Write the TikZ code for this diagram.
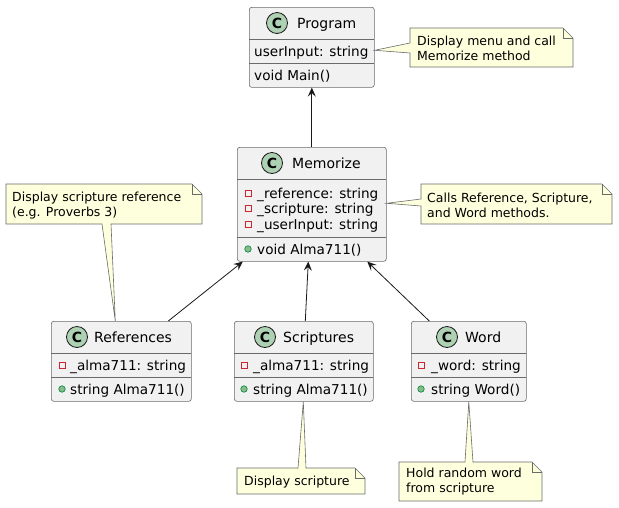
\documentclass[tikz,border=0pt]{standalone}
\usepackage{fontspec}
\setmainfont{DejaVu Sans}
\usetikzlibrary{arrows.meta}
\definecolor{classbg}{HTML}{F1F1F1}
\definecolor{linecol}{HTML}{181818}
\definecolor{edgecol}{HTML}{6A6A6A}
\definecolor{iconbg}{HTML}{ADD1B2}
\definecolor{notebg}{HTML}{FEFFDD}
\definecolor{privcol}{HTML}{C82930}
\definecolor{pubfill}{HTML}{84BE84}
\definecolor{publine}{HTML}{038048}

\tikzset{
  classbox/.style={draw=edgecol, fill=classbg, line width=0.6pt, rounded corners=2.5pt,
    inner sep=0pt, anchor=north west},
  divider/.style={draw=edgecol, line width=0.6pt},
  cicon/.style={circle, draw=linecol, fill=iconbg, line width=0.8pt, minimum size=21pt,
    inner sep=0pt, font=\fontsize{14}{14}\selectfont\bfseries},
  cname/.style={anchor=west, inner sep=0pt, text height=10pt, text depth=0pt,
    font=\fontsize{14}{16}\selectfont},
  member/.style={anchor=west, inner sep=0pt, text height=10pt, text depth=0pt,
    font=\fontsize{13.6}{16}\selectfont},
  priv/.style={rectangle, draw=privcol, line width=1pt, minimum size=6pt, inner sep=0pt},
  pub/.style={circle, draw=publine, fill=pubfill, line width=0.6pt, minimum size=6.5pt, inner sep=0pt},
  assoc/.style={draw=linecol, line width=0.8pt, -{Stealth[length=9pt, width=8pt, inset=3.5pt]}},
  notebox/.style={draw=edgecol, fill=notebg, line width=0.6pt},
  notetext/.style={anchor=north west, inner sep=0pt, align=left,
    font=\fontsize{12.5}{15}\selectfont},
}

\begin{document}
\begin{tikzpicture}[x=1pt, y=-1pt]
\useasboundingbox (0,0) rectangle (619,507);

% === Program ===
\node[classbox, minimum width=125pt, minimum height=80pt] (prog) at (249,7) {};
\draw[divider] (249,39) -- (374,39);
\draw[divider] (249,63) -- (374,63);
\node[cicon] (prog-c) at (277,23) {C};
\node[cname] (prog-n) at (297,23) {Program};
\node[member] (prog-a) at (254,51) {userInput: string};
\node[member] (prog-m) at (254,75) {void Main()};

% === Memorize ===
\node[classbox, minimum width=149pt, minimum height=114pt] (mem) at (237,147) {};
\draw[divider] (237,179) -- (386,179);
\draw[divider] (237,237) -- (386,237);
\node[cicon] (mem-c) at (272,163) {C};
\node[cname] (mem-n) at (292,163) {Memorize};
\node[priv] (mem-p1) at (248,193) {};
\node[member] (mem-a1) at (257,193) {\_reference: string};
\node[priv] (mem-p2) at (248,208.5) {};
\node[member] (mem-a2) at (257,208.5) {\_scripture: string};
\node[priv] (mem-p3) at (248,224) {};
\node[member] (mem-a3) at (257,224) {\_userInput: string};
\node[pub] (mem-q1) at (248,249) {};
\node[member] (mem-m1) at (257,249) {void Alma711()};

% === References ===
\node[classbox, minimum width=140pt, minimum height=80pt] (ref) at (51,321) {};
\draw[divider] (51,353) -- (191,353);
\draw[divider] (51,377) -- (191,377);
\node[cicon] (ref-c) at (77,337) {C};
\node[cname] (ref-n) at (94,337) {References};
\node[priv] (ref-p1) at (62,365) {};
\node[member] (ref-a1) at (70,365) {\_alma711: string};
\node[pub] (ref-q1) at (62,389) {};
\node[member] (ref-m1) at (70,389) {string Alma711()};

% === Scriptures ===
\node[classbox, minimum width=139pt, minimum height=80pt] (scr) at (234,321) {};
\draw[divider] (234,353) -- (373,353);
\draw[divider] (234,377) -- (373,377);
\node[cicon] (scr-c) at (265,337) {C};
\node[cname] (scr-n) at (283,337) {Scriptures};
\node[priv] (scr-p1) at (244,365) {};
\node[member] (scr-a1) at (253,365) {\_alma711: string};
\node[pub] (scr-q1) at (244,389) {};
\node[member] (scr-m1) at (253,389) {string Alma711()};

% === Word ===
\node[classbox, minimum width=115pt, minimum height=80pt] (word) at (411,321) {};
\draw[divider] (411,353) -- (526,353);
\draw[divider] (411,377) -- (526,377);
\node[cicon] (word-c) at (447,337) {C};
\node[cname] (word-n) at (465,337) {Word};
\node[priv] (word-p1) at (421,365) {};
\node[member] (word-a1) at (431,365) {\_word: string};
\node[pub] (word-q1) at (421,389) {};
\node[member] (word-m1) at (431,389) {string Word()};

% === associations ===
\draw[assoc] (mem.north) -- (prog.south);
\draw[assoc] ([xshift=47pt]ref.north) -- ([xshift=-69pt]mem.south);
\draw[assoc] ([xshift=1.5pt]scr.north) -- ([xshift=-3.5pt]mem.south);
\draw[assoc] ([xshift=-39.5pt]word.north) -- ([xshift=55.5pt]mem.south);

% === notes ===
\coordinate (n1tip) at ([yshift=-3pt]prog.east);
\draw[notebox] (410,28) -- (563,28) -- (573,38) -- (573,67) -- (410,67)
  -- (410,53) -- (n1tip) -- (410,43) -- cycle;
\draw[notebox, fill=none] (563,28) -- (563,38) -- (573,38);
\node[notetext] (n1) at (417,36) {Display menu and call\\Memorize method};

\coordinate (n2tip) at ([yshift=1pt]mem.east);
\draw[notebox] (421,184) -- (602,184) -- (612,194) -- (612,224) -- (421,224)
  -- (421,206) -- (n2tip) -- (421,199) -- cycle;
\draw[notebox, fill=none] (602,184) -- (602,194) -- (612,194);
\node[notetext] (n2) at (427,193) {Calls Reference, Scripture,\\and Word methods.};

\coordinate (n3tip) at ([xshift=-6pt]ref.north);
\draw[notebox] (6,184) -- (192,184) -- (202,194) -- (202,224) -- (111,224)
  -- (n3tip) -- (102,224) -- (6,224) -- cycle;
\draw[notebox, fill=none] (192,184) -- (192,194) -- (202,194);
\node[notetext] (n3) at (12,192) {Display scripture reference\\(e.g. Proverbs 3)};

\coordinate (n4tip) at ([xshift=-0.5pt]scr.south);
\draw[notebox] (237,468) -- (298,468) -- (n4tip) -- (306,468) -- (355,468)
  -- (365,478) -- (365,494) -- (237,494) -- cycle;
\draw[notebox, fill=none] (355,468) -- (355,478) -- (365,478);
\node[notetext] (n4) at (244,476) {Display scripture};

\coordinate (n5tip) at (word.south);
\draw[notebox] (399,462) -- (465,462) -- (n5tip) -- (473,462) -- (532,462)
  -- (542,472) -- (542,501) -- (399,501) -- cycle;
\draw[notebox, fill=none] (532,462) -- (532,472) -- (542,472);
\node[notetext] (n5) at (406,468) {Hold random word\\from scripture};

\end{tikzpicture}
\end{document}
